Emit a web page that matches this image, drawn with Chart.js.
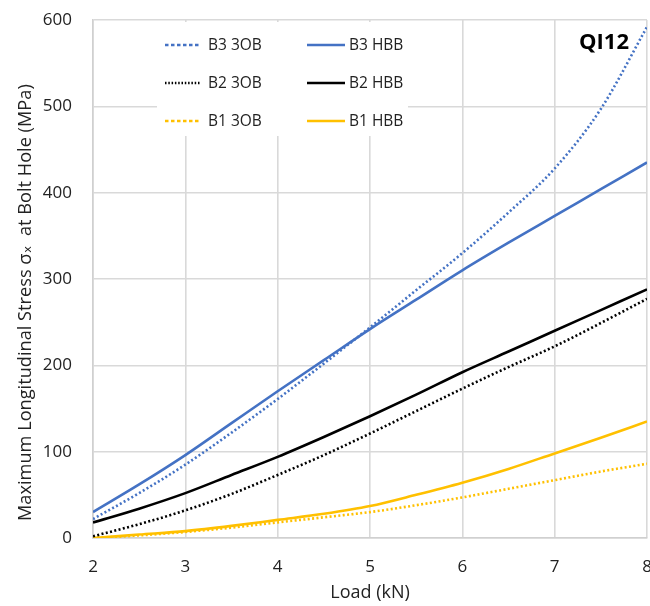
<!DOCTYPE html>
<html><head><meta charset="utf-8">
<script src="https://cdn.jsdelivr.net/npm/chart.js@4"></script>
<style>html,body{margin:0;padding:0;background:#fff}#wrap{width:650px;height:606px;position:relative}</style>
</head><body><div id="wrap"><canvas id="c" width="650" height="606"></canvas></div>
<script>
// ---- data ----
const loadKN  = [2, 2.5, 3, 3.5, 4, 4.5, 5, 5.5, 6, 6.5, 7, 7.5, 8];
const b3_3OB  = [22, 52, 85, 122, 161, 202, 244, 287, 330, 377, 428, 497, 592];
const b3_HBB  = [30, 62, 96, 133, 170, 206, 242, 276, 310, 342, 373, 404, 435];
const b2_3OB  = [2, 16, 32, 51, 73, 96, 121, 147, 173, 198, 222, 249, 277];
const b2_HBB  = [18, 34, 52, 73, 94, 117, 141, 166, 192, 216, 240, 264, 288];
const b1_3OB  = [0, 3, 7, 12, 18, 24, 30, 38, 47, 57, 67, 77, 86];
const b1_HBB  = [0, 4, 8, 14, 21, 28, 37, 50, 64, 80, 98, 116, 135];
const seriesLabels = ['B3 3OB', 'B3 HBB', 'B2 3OB', 'B2 HBB', 'B1 3OB', 'B1 HBB'];
const xTickValues = [2, 3, 4, 5, 6, 7, 8];
const yTickValues = [0, 100, 200, 300, 400, 500, 600];
const panelLabel = 'QI12';
const xTitle = 'Load (kN)';
const yTitle = 'Maximum Longitudinal Stress \u03C3\u2093  at Bolt Hole (MPa)';

const BLUE = '#4472C4', BLACK = '#000000', GOLD = '#FFC000';
const FONT = "'Open Sans', 'DejaVu Sans', sans-serif";

function pts(ys){ return loadKN.map((x,i)=>({x:x, y:ys[i]})); }
function ds(label, ys, color, dotted){
  return {
    label, data: pts(ys), borderColor: color, backgroundColor: color,
    borderWidth: 2.6, borderDash: dotted ? [2, 2.4] : [],
    pointRadius: 0, pointHoverRadius: 0, fill: false,
    cubicInterpolationMode: 'monotone', tension: 0.4
  };
}
const datasets = [
  ds(seriesLabels[0], b3_3OB, BLUE, true),
  ds(seriesLabels[1], b3_HBB, BLUE, false),
  ds(seriesLabels[2], b2_3OB, BLACK, true),
  ds(seriesLabels[3], b2_HBB, BLACK, false),
  ds(seriesLabels[4], b1_3OB, GOLD, true),
  ds(seriesLabels[5], b1_HBB, GOLD, false)
];

const boxLegend = {
  id: 'boxLegend',
  beforeDatasetsDraw(chart){
    const ctx = chart.ctx;
    ctx.save();
    ctx.fillStyle = '#ffffff';
    ctx.fillRect(157, 22, 251, 114);
    const rows = [45, 83, 121];
    const cols = [{l0:165, l1:200, t:208}, {l0:307, l1:345, t:349}];
    chart.data.datasets.forEach((d, i) => {
      const r = rows[Math.floor(i/2)], c = cols[i%2];
      ctx.strokeStyle = d.borderColor;
      ctx.lineWidth = 2.4;
      ctx.setLineDash(d.borderDash && d.borderDash.length ? [3.5, 2.5] : []);
      if (d.borderColor === BLACK && d.borderDash.length) ctx.setLineDash([1.5, 1.8]);
      ctx.beginPath(); ctx.moveTo(c.l0, r); ctx.lineTo(c.l1, r); ctx.stroke();
      ctx.setLineDash([]);
      ctx.fillStyle = '#222';
      ctx.font = '15.5px ' + FONT;
      ctx.textBaseline = 'middle'; ctx.textAlign = 'left';
      ctx.fillText(d.label, c.t, r + 1);
    });
    ctx.restore();
  },
  afterDraw(chart){
    const ctx = chart.ctx;
    ctx.save();
    ctx.fillStyle = '#000';
    ctx.font = 'bold 22px ' + FONT;
    ctx.textAlign = 'center'; ctx.textBaseline = 'middle';
    ctx.fillText(panelLabel, 604, 43);
    ctx.restore();
  }
};

function zeroPad(s){ s.paddingTop = 0; s.paddingBottom = 0; s.paddingLeft = 0; s.paddingRight = 0; }

new Chart(document.getElementById('c'), {
  type: 'line',
  data: { datasets },
  options: {
    responsive: false, animation: false, devicePixelRatio: 1,
    layout: { padding: { top: 20, right: 3, left: 0, bottom: 0 }, autoPadding: false },
    plugins: { legend: { display: false }, tooltip: { enabled: false } },
    scales: {
      x: {
        type: 'linear', min: 2, max: 8,
        afterBuildTicks: s => { s.ticks = xTickValues.map(v => ({value: v})); },
        afterFit: s => { s.height = 68; zeroPad(s); },
        grid: { color: '#d9d9d9', lineWidth: 1.6, drawTicks: false },
        border: { color: '#d0d0d0', width: 1.6 },
        ticks: { padding: 19, color: '#222', font: { family: FONT, size: 17 } },
        title: { display: true, text: xTitle, color: '#222', font: { family: FONT, size: 18 }, padding: { top: 0, bottom: 2 } }
      },
      y: {
        type: 'linear', min: 0, max: 600,
        afterBuildTicks: s => { s.ticks = yTickValues.map(v => ({value: v})); },
        afterFit: s => { s.width = 93; zeroPad(s); },
        grid: { color: '#d9d9d9', lineWidth: 1.6, drawTicks: false },
        border: { color: '#d0d0d0', width: 1.6 },
        ticks: { padding: 21, color: '#222', font: { family: FONT, size: 17 } },
        title: { display: true, text: yTitle + '          ', color: '#222', font: { family: FONT, size: 18.2 }, padding: { top: 15, bottom: 0 } }
      }
    }
  },
  plugins: [boxLegend]
});
</script>
</body></html>
